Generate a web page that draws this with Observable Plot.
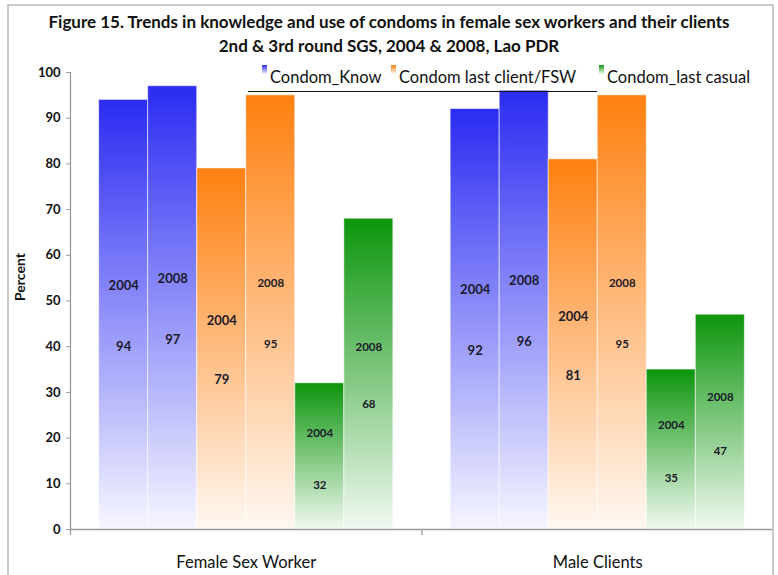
<!DOCTYPE html>
<html>
<head>
<meta charset="utf-8">
<script src="https://cdn.jsdelivr.net/npm/d3@7"></script>
<script src="https://cdn.jsdelivr.net/npm/@observablehq/plot@0.6"></script>
<style>
  body { margin: 0; background: #fff; }
  #wrap { position: relative; width: 778px; height: 575px; overflow: hidden;
          font-family: Lato, "Open Sans", sans-serif; color: #111; }
  #frame { position: absolute; left: 7px; top: 4px; width: 767px; height: 600px;
           border: 2px solid #c9c9c9; box-sizing: border-box; }
  #title { position: absolute; left: 0; top: 10px; width: 778px; text-align: center;
           font-weight: bold; font-size: 17px; line-height: 24px; color: #111; }
  #legend { position: absolute; left: 0; top: 0; font-size: 16.5px; line-height: 20px; color: #111; }
  #legend .item { position: absolute; top: 67px; white-space: nowrap; display: flex; align-items: flex-start; }
  #legend .sw { width: 5px; height: 9px; margin-right: 3px; margin-top: -2px; }
  #legendLine { position: absolute; left: 248px; top: 91px; width: 349px; height: 0;
                border-top: 1.3px solid #111; }
  #chart { position: absolute; left: 0; top: 0; }
</style>
</head>
<body>
<div id="wrap">
  <div id="chart"></div>
  <div id="frame"></div>
  <div id="title"></div>
  <div id="legend"></div>
  <div id="legendLine"></div>
</div>
<script>
// ---- data ----
const titleLines = [
  "Figure 15. Trends in knowledge and use of condoms in female sex workers and their clients",
  "2nd & 3rd round SGS, 2004 & 2008, Lao PDR"
];
const groups = ["Female Sex Worker", "Male Clients"];
const seriesNames = ["Condom_Know", "Condom last client/FSW", "Condom_last casual"];
const years = ["2004", "2008"];
// order per group: Know 2004, Know 2008, Last client 2004, Last client 2008, Casual 2004, Casual 2008
const fswValues = [94, 97, 79, 95, 32, 68];
const maleValues = [92, 96, 81, 95, 35, 47];
const yTicks = [0, 10, 20, 30, 40, 50, 60, 70, 80, 90, 100];
const yLabel = "Percent";

// ---- styles ----
const FONT = 'Lato, "Open Sans", sans-serif';
const topColors = ["#2b2bf3", "#ff8010", "#0c950c"];
const bottomColors = ["#f6f6ff", "#fff8f2", "#f1f9f1"];
const gradIds = ["gradKnow", "gradLast", "gradCasual"];
const legendLeft = [262, 391, 599];

// ---- rows ----
const rows = [];
[fswValues, maleValues].forEach((vals, gi) => {
  vals.forEach((v, k) => {
    rows.push({group: groups[gi], gi, k, si: Math.floor(k / 2), series: seriesNames[Math.floor(k / 2)],
               year: years[k % 2], value: v});
  });
});

// layout inside each group unit (x scale is linear: one unit per group)
const BW = 0.1395;
const PAD = (1 - 6 * BW) / 2;
const bx1 = d => d.gi + PAD + d.k * BW;
const bx2 = d => bx1(d) + BW;
const bxc = d => bx1(d) + BW / 2;
const small = d => d.si === 2 || (d.si === 1 && d.k % 2 === 1);

function defsMark() {
  const defs = d3.create("svg:defs");
  gradIds.forEach((id, i) => {
    const g = defs.append("linearGradient").attr("id", id)
      .attr("x1", 0).attr("y1", 0).attr("x2", 0).attr("y2", 1);
    g.append("stop").attr("offset", "0%").attr("stop-color", topColors[i]);
    g.append("stop").attr("offset", "100%").attr("stop-color", bottomColors[i]);
  });
  return defs.node();
}

const plot = Plot.plot({
  width: 778,
  height: 575,
  marginLeft: 70,
  marginRight: 5,
  marginTop: 72,
  marginBottom: 46,
  style: {fontFamily: FONT, background: "transparent", color: "#111"},
  x: {domain: [0, groups.length], axis: null},
  y: {domain: [0, 100], axis: null},
  marks: [
    defsMark,
    ...gradIds.map((id, si) =>
      Plot.rectY(rows.filter(d => d.si === si), {
        x1: bx1, x2: bx2, y1: 0, y2: "value",
        fill: `url(#${id})`, stroke: "#ffffff", strokeOpacity: 0.55, strokeWidth: 1
      })
    ),
    // axis lines
    Plot.ruleY([0], {stroke: "#9a9a9a", strokeWidth: 1.3}),
    Plot.ruleX([0], {y1: 100, y2: 0, insetBottom: -6, stroke: "#9a9a9a", strokeWidth: 1.3}),
    Plot.ruleX([1], {y1: 0, y2: 0, insetBottom: -6, stroke: "#9a9a9a", strokeWidth: 1.3}),
    Plot.axisY({ticks: yTicks, tickSize: 4, tickPadding: 6, fontSize: 13, fontWeight: "bold",
                stroke: "#9a9a9a", fill: "#111", label: null}),
    Plot.text([yLabel], {frameAnchor: "left", rotate: -90, dx: -50, fontSize: 14, fontWeight: "bold", fill: "#111"}),
    // bar labels
    Plot.text(rows, {x: bxc, y: d => d.value * 0.52 + 4.5, text: "year",
                     fontSize: d => small(d) ? 11.5 : 13, fontWeight: "bold", fill: "#1a1a2a"}),
    Plot.text(rows, {x: bxc, y: d => d.value * 0.49 - 6, text: d => String(d.value),
                     fontSize: d => small(d) ? 11.5 : 13, fontWeight: "bold", fill: "#1a1a2a"}),
    // category labels
    Plot.text(groups, {x: (d, i) => i + 0.5, y: 0, dy: 33, text: d => d, fontSize: 16.5, fill: "#111"})
  ]
});
document.getElementById("chart").appendChild(plot);

// title
document.getElementById("title").innerHTML = titleLines.map(t => `<div>${t.replace(/&/g, "&amp;")}</div>`).join("");

// legend
const leg = document.getElementById("legend");
seriesNames.forEach((name, i) => {
  const item = document.createElement("div");
  item.className = "item";
  item.style.left = legendLeft[i] + "px";
  item.innerHTML = `<span class="sw" style="background:linear-gradient(${topColors[i]}, ${bottomColors[i]})"></span><span>${name}</span>`;
  leg.appendChild(item);
});
</script>
</body>
</html>
